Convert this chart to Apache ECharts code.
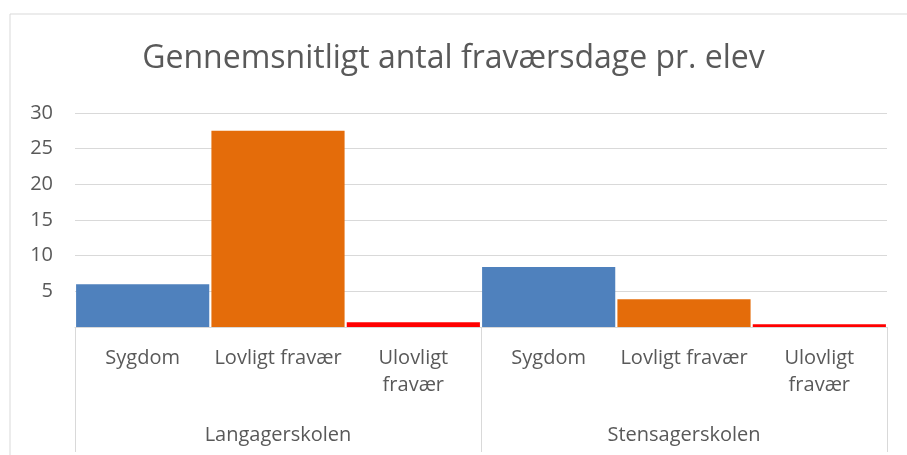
<!DOCTYPE html>
<html>
<head>
<meta charset="utf-8">
<style>html,body{margin:0;padding:0;background:#fff}#c{width:907px;height:455px}</style>
<script src="https://cdn.jsdelivr.net/npm/echarts@6/dist/echarts.min.js"></script>
</head>
<body>
<div id="c"></div>
<script>
const title = 'Gennemsnitligt antal fraværsdage pr. elev';
const schools = ['Langagerskolen', 'Stensagerskolen'];
const types = ['Sygdom', 'Lovligt fravær', 'Ulovligt\nfravær'];
const langager = [6.0, 27.5, 0.65];
const stensager = [8.4, 3.9, 0.4];
const yTicks = [5, 10, 15, 20, 25, 30];
const colors = ['#4f81bd', '#e46c0a', '#ff0000'];

const cats = [];
const data = [];
[langager, stensager].forEach((vals, s) => {
  vals.forEach((v, i) => {
    cats.push(types[i]);
    data.push({ value: v, itemStyle: { color: colors[i] } });
  });
});

const font = '"Open Sans", Lato, sans-serif';
const chart = echarts.init(document.getElementById('c'));
chart.setOption({
  animation: false,
  title: {
    text: title, left: 'center', top: 38,
    textStyle: { fontFamily: font, fontSize: 32, fontWeight: 'normal', color: '#595959' }
  },
  graphic: [{
    type: 'rect', shape: { x: 10, y: 14, width: 920, height: 480 },
    style: { fill: 'none', stroke: '#d9d9d9', lineWidth: 1 }, silent: true, z: -1
  }],
  grid: { left: 75, right: 20, top: 113, bottom: 128 },
  xAxis: [{
    type: 'category', data: cats, position: 'bottom',
    axisLine: { show: true, lineStyle: { color: '#d9d9d9', width: 1 } },
    axisTick: { show: false },
    axisLabel: { interval: 0, margin: 18, fontFamily: font, fontSize: 20, color: '#595959', lineHeight: 27 }
  }, {
    type: 'category', data: schools, position: 'bottom', gridIndex: 0,
    axisLine: { show: false },
    axisTick: { show: true, length: 125, lineStyle: { color: '#d9d9d9', width: 1 } },
    axisLabel: { interval: 0, margin: 98, fontFamily: font, fontSize: 20, color: '#595959' }
  }],
  yAxis: {
    type: 'value', min: 0, max: 30, interval: 5,
    axisLine: { show: false }, axisTick: { show: false },
    splitLine: { lineStyle: { color: '#d9d9d9', width: 1 } },
    axisLabel: {
      margin: 22, fontFamily: font, fontSize: 20, color: '#595959',
      formatter: v => yTicks.includes(v) ? String(v) : ''
    }
  },
  series: [{
    type: 'bar', data: data, xAxisIndex: 0,
    barCategoryGap: '1.6%'
  }]
});
</script>
</body>
</html>
